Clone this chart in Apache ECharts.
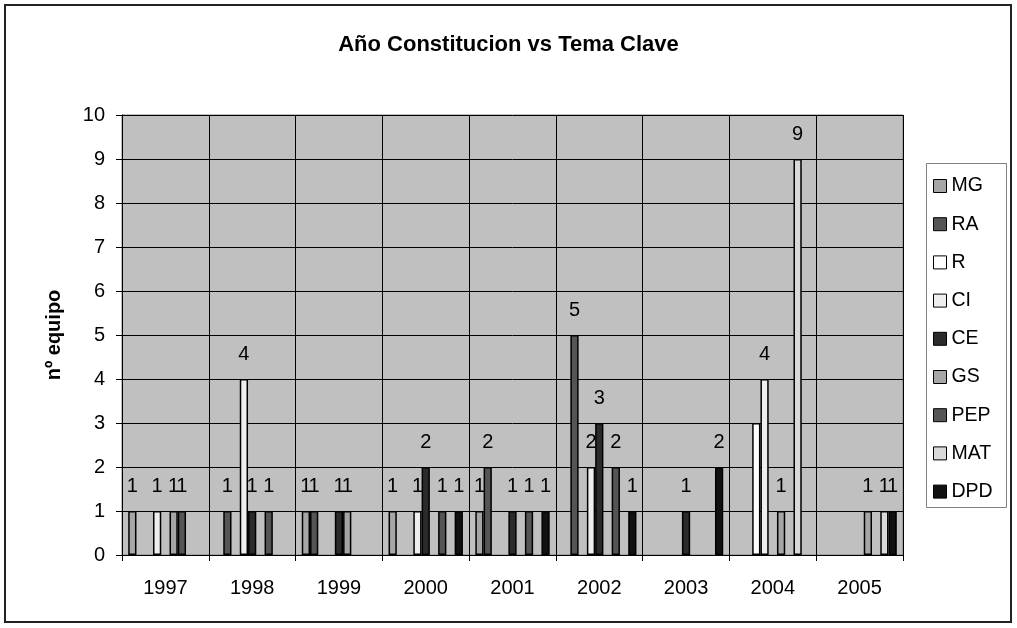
<!DOCTYPE html>
<html>
<head>
<meta charset="utf-8">
<script src="https://cdn.jsdelivr.net/npm/echarts@6/dist/echarts.min.js"></script>
<style>
  html, body { margin: 0; padding: 0; background: #fff; }
  #chart { width: 1017px; height: 628px; }
</style>
</head>
<body>
<div id="chart"></div>
<script>
// categories
const years = ['1997', '1998', '1999', '2000', '2001', '2002', '2003', '2004', '2005']

// series values (0 = no bar)
const MG  = [1, 0, 1, 1, 1, 0, 0, 0, 0]
const RA  = [0, 1, 1, 0, 2, 5, 0, 0, 0]
const R   = [0, 0, 0, 0, 0, 0, 0, 3, 0]
const CI  = [1, 4, 0, 1, 0, 2, 0, 4, 0]
const CE  = [0, 1, 1, 2, 1, 3, 1, 0, 0]
const GS  = [1, 0, 1, 0, 0, 0, 0, 1, 1]
const PEP = [1, 1, 0, 1, 1, 2, 0, 0, 0]
const MAT = [0, 0, 0, 0, 0, 0, 0, 9, 1]
const DPD = [0, 0, 0, 1, 1, 1, 2, 0, 1]

// labels the original leaves out
const hiddenLabels = [['R', '2004']]

const seriesList = [
  { name: 'MG', data: MG, color: '#a6a6a6' },
  { name: 'RA', data: RA, color: '#555555' },
  { name: 'R', data: R, color: '#ffffff' },
  { name: 'CI', data: CI, color: '#eeeeee' },
  { name: 'CE', data: CE, color: '#2b2b2b' },
  { name: 'GS', data: GS, color: '#a6a6a6' },
  { name: 'PEP', data: PEP, color: '#555555' },
  { name: 'MAT', data: MAT, color: '#d9d9d9' },
  { name: 'DPD', data: DPD, color: '#111111' }
]

const font = "'Liberation Sans', Arial, sans-serif"

const chart = echarts.init(document.getElementById('chart'), null, { renderer: 'canvas' })

const series = seriesList.map(s => {
  return {
    name: s.name,
    type: 'bar',
    barGap: '0%',
    barCategoryGap: '14.3%',
    itemStyle: { color: s.color, borderColor: '#000', borderWidth: 1.5 },
    label: {
      show: true,
      position: 'top',
      distance: 15,
      fontFamily: font,
      fontSize: 20,
      color: '#000'
    },
    data: s.data.map((v, i) => {
      if (!v) return null
      const hide = hiddenLabels.some(h => h[0] === s.name && h[1] === years[i])
      return hide ? { value: v, label: { show: false } } : v
    })
  }
})

const option = {
  animation: false,
  backgroundColor: '#fff',
  color: seriesList.map(s => s.color),
  title: {
    text: 'Año Constitucion vs Tema Clave',
    left: 'center',
    top: 29,
    textStyle: { fontFamily: font, fontSize: 22, fontWeight: 'bold', color: '#000' }
  },
  graphic: [
    {
      type: 'rect',
      shape: { x: 5, y: 5, width: 1006, height: 617 },
      style: { fill: null, stroke: '#222', lineWidth: 2 }
    },
    {
      type: 'rect',
      shape: { x: 926.5, y: 163.5, width: 80, height: 344 },
      style: { fill: '#fff', stroke: '#808080', lineWidth: 1 },
      z: -1
    }
  ],
  legend: {
    orient: 'vertical',
    left: 933,
    top: 176,
    itemWidth: 13,
    itemHeight: 13,
    itemGap: 18.2,
    icon: 'rect',
    padding: 0,
    itemStyle: { borderColor: '#000', borderWidth: 1 },
    textStyle: { fontFamily: font, fontSize: 19.5, color: '#000' },
    data: seriesList.map(s => s.name)
  },
  grid: {
    left: 122,
    right: 114,
    top: 115,
    bottom: 73,
    show: true,
    backgroundColor: '#c0c0c0',
    borderColor: '#808080',
    borderWidth: 1
  },
  xAxis: {
    type: 'category',
    data: years,
    axisLine: { lineStyle: { color: '#000', width: 1 } },
    axisTick: { show: true, length: 6, lineStyle: { color: '#000' } },
    axisLabel: { fontFamily: font, fontSize: 20, color: '#000', margin: 23 },
    splitLine: { show: true, lineStyle: { color: '#000', width: 1 } }
  },
  yAxis: {
    type: 'value',
    min: 0,
    max: 10,
    interval: 1,
    name: 'nº equipo',
    nameLocation: 'middle',
    nameGap: 58,
    nameTextStyle: { fontFamily: font, fontSize: 20, fontWeight: 'bold', color: '#000' },
    axisLine: { show: true, lineStyle: { color: '#000', width: 1 } },
    axisTick: { show: true, length: 6, lineStyle: { color: '#000' } },
    axisLabel: { fontFamily: font, fontSize: 20, color: '#000', margin: 17 },
    splitLine: { show: true, lineStyle: { color: '#000', width: 1 } }
  },
  series: series
}

chart.setOption(option)
</script>
</body>
</html>
